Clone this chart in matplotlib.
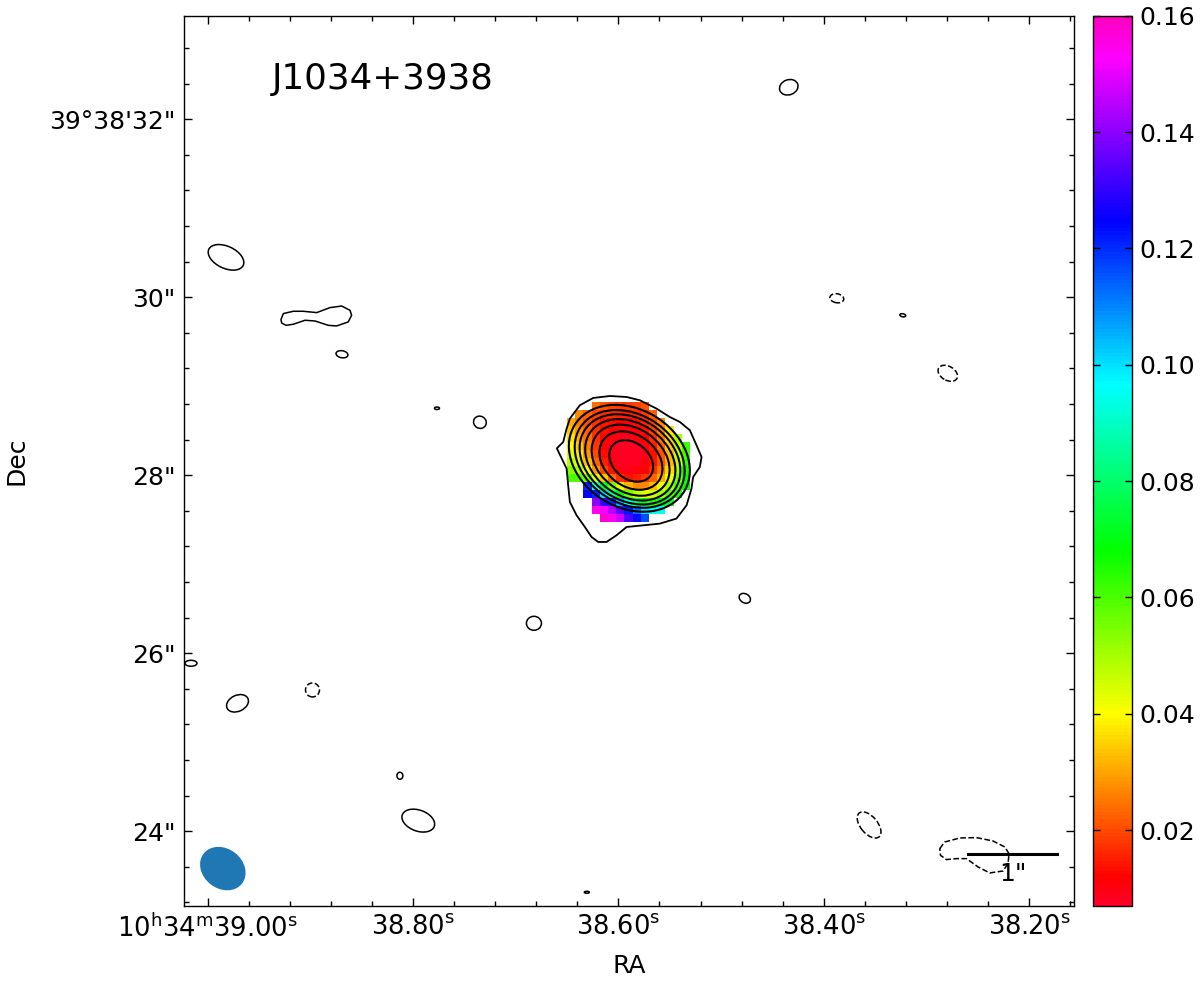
import numpy as np
import matplotlib.pyplot as plt
from matplotlib.patches import Ellipse, Polygon

nan = np.nan

# reference point for turning RA seconds into arcsec on the sky
ra0 = 38.60
dec0 = 39 + 38 / 60 + 28 / 3600
cosd = np.cos(np.radians(dec0))


def ra_off(ra):
    # RA seconds (10h34m) -> arcsec offset, east positive
    return (np.asarray(ra, dtype=float) - ra0) * 15 * cosd


# axis ticks
ra_ticks = [39.00, 38.80, 38.60, 38.40, 38.20]
ra_labels = [r'10$^{\rm h}$34$^{\rm m}$39.00$^{\rm s}$', r'38.80$^{\rm s}$',
             r'38.60$^{\rm s}$', r'38.40$^{\rm s}$', r'38.20$^{\rm s}$']
dec_ticks = [24, 26, 28, 30, 32]
dec_labels = ['24"', '26"', '28"', '30"', '39°38\'32"']
cbar_ticks = [0.02, 0.04, 0.06, 0.08, 0.10, 0.12, 0.14, 0.16]

# concentric total intensity contours of the core (ellipse fits, arcsec / deg)
core_ra = [38.5875, 38.5878, 38.5881, 38.5884, 38.5887, 38.5890, 38.5893]
core_dec = [28.161, 28.165, 28.170, 28.174, 28.179, 28.184, 28.191]
core_major = [0.546, 0.775, 0.951, 1.092, 1.213, 1.318, 1.440]
core_minor = [0.404, 0.578, 0.710, 0.820, 0.917, 1.000, 1.105]
core_tilt = [-39.5, -37, -35.5, -34, -33, -32, -30.7]

# lowest contour around the core
outer_ra = [38.6375, 38.6245, 38.6083, 38.5920, 38.5791, 38.5628, 38.5499, 38.5401,
            38.5304, 38.5239, 38.5190, 38.5207, 38.5272, 38.5288, 38.5336, 38.5434,
            38.5596, 38.5759, 38.5920, 38.6018, 38.6115, 38.6197, 38.6261, 38.6326,
            38.6407, 38.6472, 38.6489, 38.6504, 38.6599, 38.6537, 38.6504, 38.6472]
outer_dec = [28.787, 28.869, 28.891, 28.880, 28.843, 28.749, 28.655, 28.599,
             28.506, 28.337, 28.206, 28.093, 27.981, 27.851, 27.663, 27.514,
             27.457, 27.438, 27.419, 27.326, 27.251, 27.251, 27.307, 27.419,
             27.551, 27.700, 27.888, 28.075, 28.303, 28.374, 28.525, 28.637]

# small noise islands (ellipse fits); neg = negative contour (dashed)
blob_ra = [38.4341, 38.9820, 38.8691, 38.7766, 38.7348, 38.6822, 38.4769, 38.3873,
           38.3231, 38.2793, 39.0161, 38.9708, 38.8978, 38.8127, 38.7948, 38.6307,
           38.3559]
blob_dec = [32.360, 30.449, 29.360, 28.753, 28.596, 26.337, 26.618, 29.989,
            29.798, 29.146, 25.888, 25.438, 25.588, 24.624, 24.120, 23.315,
            24.071]
blob_major = [0.213, 0.427, 0.135, 0.056, 0.146, 0.169, 0.135, 0.157,
              0.067, 0.236, 0.135, 0.258, 0.157, 0.067, 0.382, 0.056,
              0.348]
blob_minor = [0.169, 0.247, 0.079, 0.028, 0.135, 0.157, 0.101, 0.101,
              0.034, 0.157, 0.067, 0.180, 0.157, 0.079, 0.236, 0.022,
              0.191]
blob_tilt = [20, -25, -10, 0, -30, 0, -30, -10, -10, -30, 0, 25, 0, 0, -20, 0, -50]
blob_neg = [False, False, False, False, False, False, False, True,
            False, True, False, False, True, False, False, False,
            True]

# two-lobed island left of centre
peanut_ra = [38.9285, 38.9262, 38.9165, 38.9068, 38.8937, 38.8808, 38.8694, 38.8613,
             38.8597, 38.8630, 38.8743, 38.8824, 38.8954, 38.9051, 38.9165, 38.9236,
             38.9278]
peanut_dec = [29.749, 29.817, 29.843, 29.843, 29.828, 29.884, 29.902, 29.854,
              29.798, 29.723, 29.678, 29.685, 29.734, 29.742, 29.697, 29.685,
              29.711]

# negative island near the scale bar
neg_ra = [38.2871, 38.2822, 38.2676, 38.2514, 38.2352, 38.2238, 38.2197, 38.2206,
          38.2255, 38.2384, 38.2498, 38.2611, 38.2709, 38.2806, 38.2864]
neg_dec = [23.806, 23.880, 23.925, 23.929, 23.891, 23.824, 23.749, 23.637,
           23.554, 23.532, 23.599, 23.693, 23.693, 23.682, 23.730]

# fractional polarization map, rows from north to south, columns east to west
polfrac = np.array([
    [nan, nan, nan, 0.024, 0.021, 0.019, 0.018, 0.018, 0.019, 0.021, nan, nan, nan, nan, nan],
    [nan, 0.027, 0.023, 0.019, 0.017, 0.016, 0.015, 0.015, 0.016, 0.018, 0.022, nan, nan, nan, nan],
    [0.031, 0.026, 0.021, 0.017, 0.014, 0.013, 0.012, 0.012, 0.013, 0.016, 0.020, 0.027, nan, nan, nan],
    [0.034, 0.028, 0.022, 0.017, 0.013, 0.011, 0.010, 0.010, 0.011, 0.014, 0.019, 0.027, 0.038, nan, nan],
    [0.037, 0.031, 0.024, 0.017, 0.012, 0.010, 0.009, 0.009, 0.010, 0.012, 0.017, 0.025, 0.036, 0.050, nan],
    [0.040, 0.034, 0.026, 0.018, 0.012, 0.009, 0.008, 0.008, 0.008, 0.010, 0.015, 0.023, 0.034, 0.048, 0.062],
    [0.044, 0.038, 0.029, 0.020, 0.013, 0.009, 0.008, 0.008, 0.008, 0.009, 0.013, 0.021, 0.032, 0.046, 0.061],
    [0.048, 0.043, 0.033, 0.023, 0.015, 0.010, 0.008, 0.008, 0.008, 0.010, 0.014, 0.021, 0.032, 0.047, 0.062],
    [0.054, 0.050, 0.040, 0.029, 0.020, 0.014, 0.010, 0.009, 0.010, 0.012, 0.017, 0.025, 0.036, 0.050, 0.065],
    [0.060, 0.060, 0.056, 0.045, 0.034, 0.024, 0.017, 0.014, 0.015, 0.018, 0.023, 0.031, 0.042, 0.055, 0.068],
    [nan, nan, 0.120, 0.092, 0.072, 0.056, 0.043, 0.032, 0.027, 0.027, 0.033, 0.042, 0.050, 0.060, 0.068],
    [nan, nan, 0.125, 0.120, 0.100, 0.085, 0.070, 0.056, 0.046, 0.043, 0.045, 0.050, 0.058, 0.065, nan],
    [nan, nan, nan, 0.140, 0.130, 0.120, 0.106, 0.092, 0.078, 0.068, 0.065, 0.068, 0.075, nan, nan],
    [nan, nan, nan, 0.155, 0.152, 0.145, 0.135, 0.122, 0.112, 0.100, 0.095, 0.095, nan, nan, nan],
    [nan, nan, nan, nan, 0.158, 0.155, 0.148, 0.133, 0.123, 0.116, nan, nan, nan, nan, nan],
])
pol_ra_edges = [38.6501, 38.5304]
pol_dec_edges = [27.472, 28.820]

# restoring beam (arcsec, deg)
beam_major, beam_minor, beam_tilt = 0.548, 0.447, -38

fig = plt.figure(figsize=(12, 9.81), dpi=100)
ax = fig.add_axes([184 / 1200, 75.3 / 981, 890 / 1200, 890 / 981])
cax = fig.add_axes([1093 / 1200, 75.3 / 981, 39 / 1200, 890 / 981])

im = ax.imshow(np.ma.masked_invalid(polfrac), cmap='gist_rainbow', vmin=0.007, vmax=0.160,
               extent=(ra_off(pol_ra_edges[0]), ra_off(pol_ra_edges[1]),
                       pol_dec_edges[0], pol_dec_edges[1]),
               origin='upper', interpolation='nearest', aspect='auto', zorder=1)

for r, d, a, b, t in zip(core_ra, core_dec, core_major, core_minor, core_tilt):
    ax.add_patch(Ellipse((ra_off(r), d), a, b, angle=-t, fill=False,
                         ec='black', lw=1.5, zorder=3))

ax.add_patch(Polygon(np.column_stack([ra_off(outer_ra), outer_dec]), closed=True,
                     fill=False, ec='black', lw=1.3, joinstyle='round', zorder=3))

for r, d, a, b, t, neg in zip(blob_ra, blob_dec, blob_major, blob_minor, blob_tilt, blob_neg):
    ax.add_patch(Ellipse((ra_off(r), d), a, b, angle=-t, fill=False, ec='black',
                         lw=1.1, ls='--' if neg else '-', zorder=3))

ax.add_patch(Polygon(np.column_stack([ra_off(peanut_ra), peanut_dec]), closed=True,
                     fill=False, ec='black', lw=1.1, joinstyle='round', zorder=3))
ax.add_patch(Polygon(np.column_stack([ra_off(neg_ra), neg_dec]), closed=True,
                     fill=False, ec='black', lw=1.1, ls='--', zorder=3))

# beam
ax.add_patch(Ellipse((ra_off(38.9851), 23.581), beam_major, beam_minor, angle=-beam_tilt,
                     fc='#1f77b4', ec='none', zorder=4))

# 1 arcsec scale bar
bar_x = ra_off(38.1728)
ax.plot([bar_x + 1.0, bar_x], [23.742, 23.742], color='black', lw=2.2, zorder=5)
ax.text(bar_x + 0.5, 23.655, '1"', fontsize=18, ha='center', va='top', zorder=5)

ax.text(0.099, 0.918, 'J1034+3938', transform=ax.transAxes, fontsize=25.7,
        ha='left', va='baseline')

ax.set_xlim(ra_off(39.0229), ra_off(38.1564))
ax.set_ylim(23.164, 33.164)

ax.set_xticks(ra_off(ra_ticks))
ax.set_xticklabels(ra_labels)
ax.set_xticks(ra_off(np.arange(38.16, 39.01, 0.04)), minor=True)
ax.set_yticks(dec_ticks)
ax.set_yticklabels(dec_labels)
ax.set_yticks(np.arange(23.2, 33.1, 0.4), minor=True)

ax.tick_params(which='both', direction='in', top=True, right=True, labelsize=18, width=1)
ax.tick_params(axis='x', labelsize=18.5)
ax.tick_params(which='major', length=5.5, pad=6)
ax.tick_params(which='minor', length=3.5)
for s in ax.spines.values():
    s.set_linewidth(1.0)

ax.set_xlabel('RA', fontsize=18, labelpad=8)
ax.set_ylabel('Dec', fontsize=18, labelpad=15)

cb = fig.colorbar(im, cax=cax)
cb.set_ticks(cbar_ticks)
cb.set_ticklabels(['%.2f' % v for v in cbar_ticks])
cax.tick_params(direction='in', left=True, right=True, labelleft=False, labelright=True,
                labelsize=18, length=5, width=1, pad=5)
cb.outline.set_linewidth(1.0)

fig.savefig('out.png', dpi=100)
